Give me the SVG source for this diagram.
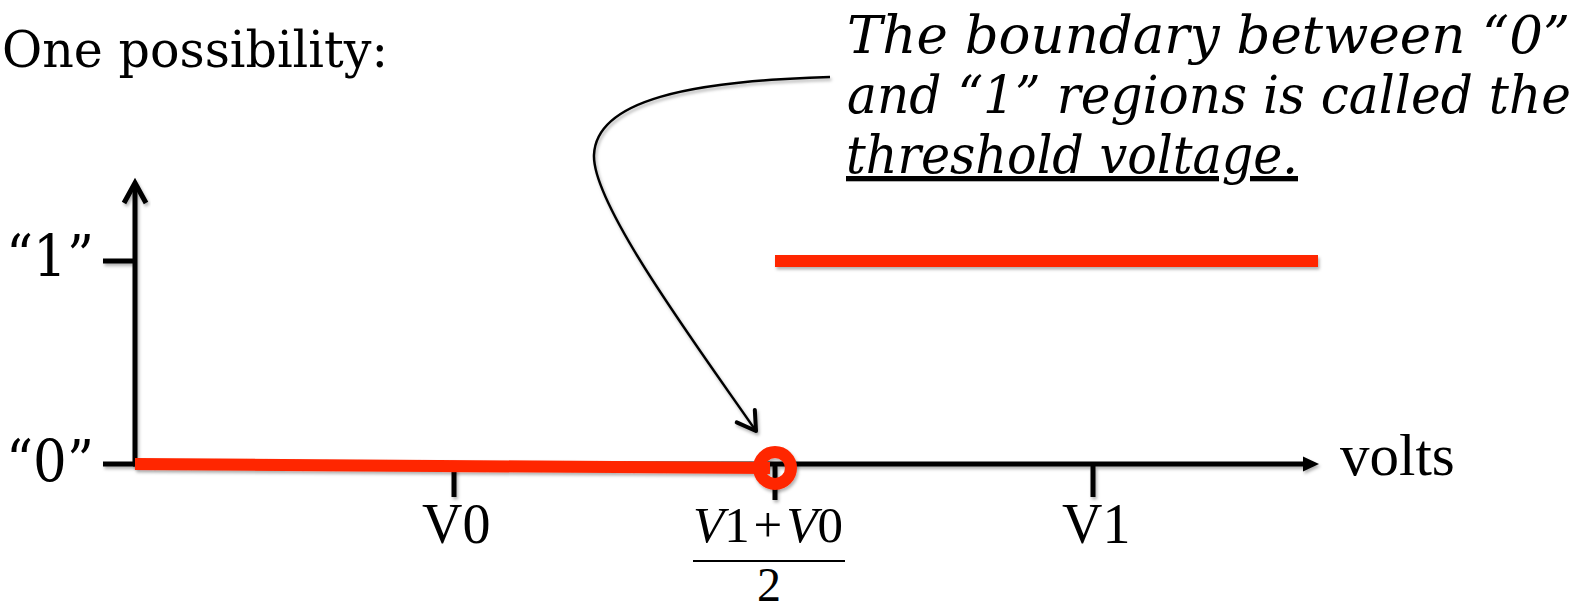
<svg xmlns="http://www.w3.org/2000/svg" width="1591" height="610" viewBox="0 0 1591 610">
  <style>
    .bk { font-family: "DejaVu Serif", "Liberation Serif", serif; fill: #000; }
    .it { font-family: "DejaVu Serif", "Liberation Serif", serif; font-style: italic; font-size: 53px; fill: #000; }
    .tm { font-family: "Liberation Serif", "Times New Roman", serif; fill: #000; }
    .axis { stroke: #000; stroke-width: 5; fill: none; }
    .red { stroke: #FF2600; stroke-width: 12; fill: none; }
  </style>
  <defs>
    <filter id="sh" x="-10%" y="-50%" width="120%" height="200%">
      <feDropShadow dx="1.5" dy="2.5" stdDeviation="1.5" flood-color="#000" flood-opacity="0.3"/>
    </filter>
    <marker id="openArrow" markerUnits="userSpaceOnUse" viewBox="-22 -14 26 28" refX="0" refY="0" markerWidth="26" markerHeight="28" orient="auto">
      <path d="M -18 -11 L 0 0 L -18 11" fill="none" stroke="#000" stroke-width="4" stroke-linecap="round" stroke-linejoin="round"/>
    </marker>
  </defs>

  <g id="title">
    <text class="bk" x="2" y="67" font-size="50" textLength="386" lengthAdjust="spacingAndGlyphs">One possibility:</text>
  </g>

  <g id="note">
    <text class="it" x="847" y="53">The boundary between “0”</text>
    <text class="it" x="847" y="113" font-size="51" textLength="724" lengthAdjust="spacingAndGlyphs">and “1” regions is called the</text>
    <text class="it" x="846" y="173" textLength="452" lengthAdjust="spacingAndGlyphs" text-decoration="underline">threshold voltage.</text>
  </g>

  <g id="y-axis" filter="url(#sh)">
    <line class="axis" x1="135" y1="185" x2="135" y2="466"/>
    <path class="axis" d="M 124 203 L 135 183 L 146 203" stroke-linejoin="miter"/>
    <line class="axis" x1="103" y1="261" x2="135" y2="261"/>
    <line class="axis" x1="103" y1="464" x2="135" y2="464"/>
  </g>
  <g id="y-labels">
    <text class="bk" x="6" y="276" font-size="57" textLength="88" lengthAdjust="spacingAndGlyphs">“1”</text>
    <text class="bk" x="6" y="481" font-size="57" textLength="88" lengthAdjust="spacingAndGlyphs">“0”</text>
  </g>

  <g id="x-axis" filter="url(#sh)">
    <line class="axis" x1="133" y1="464" x2="1305" y2="464"/>
    <path d="M 1303 456.5 L 1319 464 L 1303 471.5 Z" fill="#000"/>
    <line class="axis" x1="454" y1="464" x2="454" y2="497"/>
    <line class="axis" x1="775" y1="464" x2="775" y2="500"/>
    <line class="axis" x1="1093" y1="464" x2="1093" y2="497"/>
  </g>
  <g id="x-labels">
    <text class="tm" x="422" y="543" font-size="56">V0</text>
    <text class="tm" x="1062" y="543" font-size="56">V1</text>
    <text class="tm" x="1340" y="475" font-size="59">volts</text>
    <text class="tm" x="693" y="542" font-size="51" textLength="150" lengthAdjust="spacingAndGlyphs"><tspan font-style="italic">V</tspan>1<tspan dx="4">+</tspan><tspan dx="4" font-style="italic">V</tspan>0</text>
    <line x1="693" y1="561" x2="845" y2="561" stroke="#000" stroke-width="2.2"/>
    <text class="tm" x="769" y="601" font-size="48" text-anchor="middle">2</text>
  </g>

  <g id="levels" filter="url(#sh)">
    <line class="red" x1="135" y1="464" x2="770" y2="468"/>
    <line class="red" x1="775" y1="261" x2="1318" y2="261"/>
    <circle cx="775" cy="468" r="16" fill="none" stroke="#FF2600" stroke-width="12"/>
  </g>

  <g id="connectors">
    <path d="M 830 77 C 690 81, 596 100, 594 155 C 592 205, 700 350, 756 431" fill="none" stroke="#000" stroke-width="2.5" marker-end="url(#openArrow)" filter="url(#sh)"/>
  </g>
</svg>
